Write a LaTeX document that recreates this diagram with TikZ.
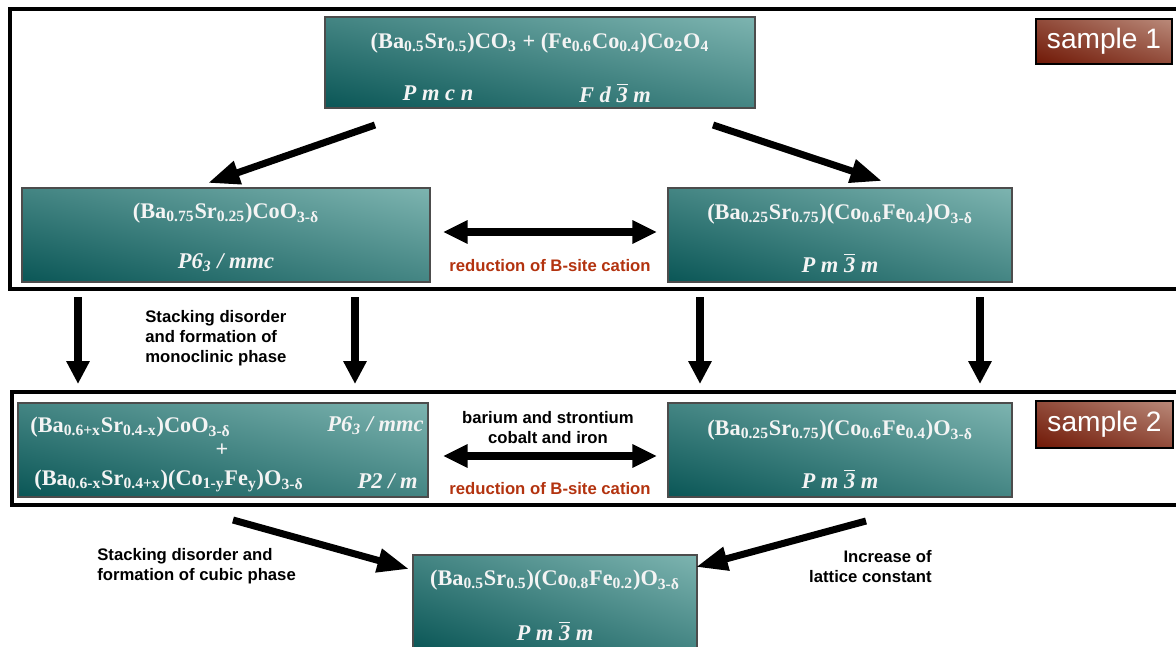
\documentclass[tikz,border=0pt]{standalone}
\usepackage{fontspec}
\setmainfont{Liberation Serif}
\newfontfamily\arialfont{Liberation Sans}
\usetikzlibrary{arrows.meta,shadings}

\definecolor{tealdark}{HTML}{0A5656}
\definecolor{teallight}{HTML}{7DB4B0}
\colorlet{tealmid}{tealdark!50!teallight}
\definecolor{rustdark}{HTML}{701806}
\definecolor{rustlight}{HTML}{BA8A7A}
\colorlet{rustmid}{rustdark!55!rustlight}
\definecolor{redlabel}{HTML}{B3330F}
\definecolor{chemwhite}{HTML}{F4F4F4}

% overlined digit for space-group symbols
\newcommand\barthree{$\overline{\mbox{3}}$}

\begin{document}
\begin{tikzpicture}[x=0.02cm,y=-0.02cm,
  phase/.style={draw=black!70, line width=0.7pt, inner sep=0pt,
    lower left=tealdark, upper right=teallight,
    upper left=tealmid, lower right=tealmid},
  samplebox/.style={draw=black, line width=1.1pt, inner sep=0pt,
    lower left=rustdark, upper right=rustlight,
    upper left=rustmid, lower right=rustmid,
    text=white, font=\arialfont\fontsize{16}{18}\selectfont},
  chem/.style={text=chemwhite, inner sep=0pt,
    font=\bfseries\fontsize{12.7}{14}\selectfont},
  sgroup/.style={text=chemwhite, inner sep=0pt,
    font=\bfseries\itshape\fontsize{12.8}{14}\selectfont},
  note/.style={inner sep=0pt, font=\arialfont\bfseries\fontsize{9.5}{11.4}\selectfont},
  rednote/.style={note, text=redlabel},
  frameline/.style={line width=2.2pt},
  bigarrow/.style={line width=4.4pt, -{Triangle[length=13pt,width=12.5pt]}},
  diagarrow/.style={line width=4pt, -{Triangle[length=18pt,width=13pt]}},
  duoarrow/.style={line width=4pt,
    {Triangle[length=14pt,width=12.5pt]}-{Triangle[length=14pt,width=12.5pt]}}
]
\useasboundingbox (0,0) rectangle (1176,646);

% frames around the two samples (open on the right)
\draw[frameline] (1176,9) -- (10,9) -- (10,289) -- (1176,289);
\draw[frameline] (1176,392) -- (12,392) -- (12,505) -- (1176,505);

% phase boxes
\node[phase, minimum width=8.6cm,  minimum height=1.82cm] (start) at (540,62.5) {};
\node[phase, minimum width=8.16cm, minimum height=1.88cm] (hexA)  at (226,235) {};
\node[phase, minimum width=6.88cm, minimum height=1.88cm] (cubA)  at (840,235) {};
\node[phase, minimum width=8.2cm,  minimum height=1.88cm] (mixB)  at (223,450) {};
\node[phase, minimum width=6.88cm, minimum height=1.88cm] (cubB)  at (840,450) {};
\node[phase, minimum width=5.68cm, minimum height=1.9cm]  (final) at (555,602.5) {};

% sample tags
\node[samplebox, minimum width=2.72cm, minimum height=0.9cm]  (s1) at (1104,41.5) {sample 1};
\node[samplebox, minimum width=2.74cm, minimum height=0.94cm] (s2) at (1104.5,424.5) {sample 2};

% box contents
\node[chem]   (startF) at (540,43) {(Ba\textsubscript{0.5}Sr\textsubscript{0.5})CO\textsubscript{3} + (Fe\textsubscript{0.6}Co\textsubscript{0.4})Co\textsubscript{2}O\textsubscript{4}};
\node[sgroup] (startG1) at (438,93) {P m c n};
\node[sgroup] (startG2) at (615,93) {F d \barthree\ m};

\node[chem]   (hexAF) at (226,213) {(Ba\textsubscript{0.75}Sr\textsubscript{0.25})CoO\textsubscript{3-δ}};
\node[sgroup] (hexAG) at (226,263) {P6\textsubscript{3} / mmc};

\node[chem]   (cubAF) at (840,214) {(Ba\textsubscript{0.25}Sr\textsubscript{0.75})(Co\textsubscript{0.6}Fe\textsubscript{0.4})O\textsubscript{3-δ}};
\node[sgroup] (cubAG) at (840,263) {P m \barthree\ m};

\node[chem, anchor=west] (mixF1) at (30,427) {(Ba\textsubscript{0.6+x}Sr\textsubscript{0.4-x})CoO\textsubscript{3-δ}};
\node[chem] (mixPlus) at (222,450) {+};
\node[chem, anchor=west] (mixF2) at (34,481) {(Ba\textsubscript{0.6-x}Sr\textsubscript{0.4+x})(Co\textsubscript{1-y}Fe\textsubscript{y})O\textsubscript{3-δ}};
\node[sgroup, anchor=east] (mixG1) at (424,426) {P6\textsubscript{3} / mmc};
\node[sgroup, anchor=east] (mixG2) at (418,481) {P2 / m};

\node[chem]   (cubBF) at (840,430) {(Ba\textsubscript{0.25}Sr\textsubscript{0.75})(Co\textsubscript{0.6}Fe\textsubscript{0.4})O\textsubscript{3-δ}};
\node[sgroup] (cubBG) at (840,479) {P m \barthree\ m};

\node[chem]   (finalF) at (555,580) {(Ba\textsubscript{0.5}Sr\textsubscript{0.5})(Co\textsubscript{0.8}Fe\textsubscript{0.2})O\textsubscript{3-δ}};
\node[sgroup] (finalG) at (555,631) {P m \barthree\ m};

% connector labels
\node[rednote] (redA) at (550,266) {reduction of B-site cation};
\node[rednote] (redB) at (550,489) {reduction of B-site cation};
\node[note, align=center] (exch) at (548,428) {barium and strontium\\cobalt and iron};
\node[note, align=left, anchor=west] (stackA) at (145,338) {Stacking disorder\\and formation of\\monoclinic phase};
\node[note, align=left, anchor=west] (stackB) at (97,566.5) {Stacking disorder and\\formation of cubic phase};
\node[note, align=right, anchor=east] (lattice) at (932,566.5) {Increase of\\lattice constant};

% arrow end points
\coordinate (dl0) at (375,125);  \coordinate (dl1) at (208,183);
\coordinate (dr0) at (713,125);  \coordinate (dr1) at (882,181);
\coordinate (hA) at (443,232);   \coordinate (cA) at (657,232);
\coordinate (hB) at (443,456);   \coordinate (cB) at (657,456);
\coordinate (v10) at (78,297);   \coordinate (v11) at (78,384);
\coordinate (v20) at (355,297);  \coordinate (v21) at (355,384);
\coordinate (v30) at (700,297);  \coordinate (v31) at (700,384);
\coordinate (v40) at (980,297);  \coordinate (v41) at (980,384);
\coordinate (bl0) at (233,520);  \coordinate (bl1) at (409,569);
\coordinate (br0) at (866,521);  \coordinate (br1) at (696,567);

% connectors
\draw[diagarrow] (dl0) -- (dl1);
\draw[diagarrow] (dr0) -- (dr1);
\draw[duoarrow] (hA) -- (cA);
\draw[duoarrow] (hB) -- (cB);
\draw[bigarrow] (v10) -- (v11);
\draw[bigarrow] (v20) -- (v21);
\draw[bigarrow] (v30) -- (v31);
\draw[bigarrow] (v40) -- (v41);
\draw[diagarrow] (bl0) -- (bl1);
\draw[diagarrow] (br0) -- (br1);
\end{tikzpicture}
\end{document}
